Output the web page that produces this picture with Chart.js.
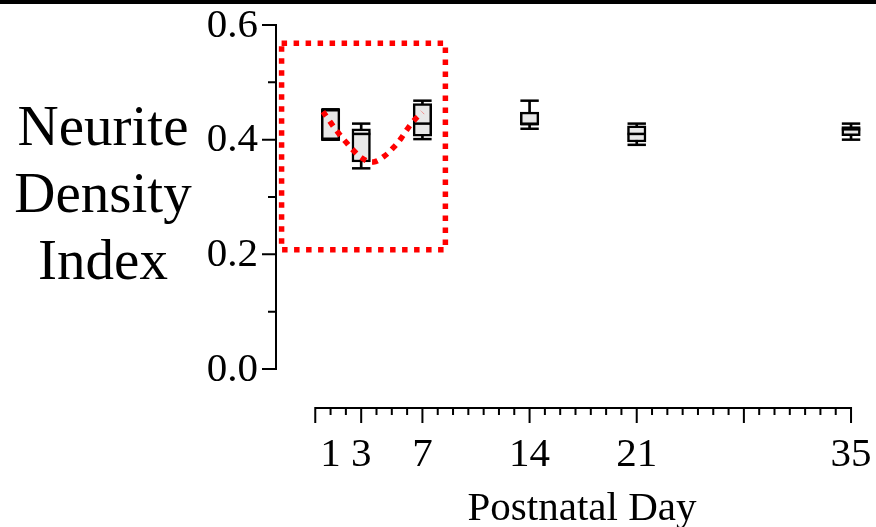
<!DOCTYPE html>
<html>
<head>
<meta charset="utf-8">
<title>Neurite Density Index by Postnatal Day</title>
<script src="https://cdn.jsdelivr.net/npm/chart.js@4.4.1/dist/chart.umd.min.js"></script>
<style>
  html, body { margin: 0; padding: 0; background: #ffffff; }
  #wrap { width: 876px; height: 527px; }
</style>
</head>
<body>
<div id="wrap"><canvas id="chart" width="876" height="527"></canvas></div>
<script>
// Postnatal days sampled
const days = [1, 3, 7, 14, 21, 35];
// Box plot summary per day
const whiskerLow   = [0.400, 0.350, 0.401, 0.419, 0.391, 0.400];
const quartileLow  = [0.400, 0.361, 0.406, 0.426, 0.396, 0.407];
const medians      = [0.400, 0.410, 0.428, 0.427, 0.410, 0.418];
const quartileHigh = [0.453, 0.419, 0.463, 0.448, 0.424, 0.423];
const whiskerHigh  = [0.453, 0.428, 0.468, 0.468, 0.428, 0.428];

// Dotted trend drawn through the early days
const trendDays   = [0.5, 1.0, 1.5, 2.0, 2.5, 3.1, 3.8, 4.5, 5.1, 5.6, 6.0, 6.5, 7.0];
const trendValues = [0.449, 0.430, 0.412, 0.396, 0.381, 0.367, 0.361, 0.371, 0.386, 0.402, 0.418, 0.435, 0.448];

// Highlighted window (days, index values)
const highlightDays   = [-2.2, 8.5];
const highlightValues = [0.208, 0.568];

// Axis ticks and labels
const yMajorTicks = [0.0, 0.2, 0.4, 0.6];
const yMinorTicks = [0.1, 0.3, 0.5];
const yTickLabels = ['0.0', '0.2', '0.4', '0.6'];
const xMajorTicks = [0, 3, 7, 14, 21, 28, 35];
const xLabelDays  = [1, 3, 7, 14, 21, 35];
const xTickLabels = ['1', '3', '7', '14', '21', '35'];
const xFirstDay = 0, xLastDay = 35;
const yTitleLines = ['Neurite', 'Density', 'Index'];
const xTitle = 'Postnatal Day';

const SERIF = '"Liberation Serif", "Times New Roman", serif';
const RED = '#ff0000';
const INK = '#000000';

const whiskerData = days.map((d, i) => ({ x: d, y: [whiskerLow[i], whiskerHigh[i]] }));
const boxData = days.map((d, i) => ({ x: d, y: [quartileLow[i], quartileHigh[i]] }));
const capData = days.flatMap((d, i) => [{ x: d, y: whiskerLow[i] }, { x: d, y: whiskerHigh[i] }]);
const medianData = days.map((d, i) => ({ x: d, y: medians[i] }));
const trendData = trendDays.map((d, i) => ({ x: d, y: trendValues[i] }));
const highlightData = [
  { x: highlightDays[0], y: highlightValues[1] },
  { x: highlightDays[1], y: highlightValues[1] },
  { x: highlightDays[1], y: highlightValues[0] },
  { x: highlightDays[0], y: highlightValues[0] },
  { x: highlightDays[0], y: highlightValues[1] }
];

// Frame: top rule, offset axes, ticks and titles drawn from the chart scales
const framePlugin = {
  id: 'frame',
  afterDraw(chart) {
    const ctx = chart.ctx;
    const xs = chart.scales.x, ys = chart.scales.y;
    ctx.save();
    ctx.fillStyle = INK;
    ctx.fillRect(0, 0, chart.width, 4);

    ctx.strokeStyle = INK;
    ctx.lineWidth = 2;
    ctx.lineCap = 'butt';

    // y axis
    const yAxisX = chart.chartArea.left - 1;
    ctx.beginPath();
    ctx.moveTo(yAxisX, ys.getPixelForValue(0) + 1);
    ctx.lineTo(yAxisX, ys.getPixelForValue(0.6) - 1);
    ctx.stroke();
    ctx.beginPath();
    yMajorTicks.forEach(v => {
      const py = ys.getPixelForValue(v);
      ctx.moveTo(yAxisX - 14, py);
      ctx.lineTo(yAxisX, py);
    });
    yMinorTicks.forEach(v => {
      const py = ys.getPixelForValue(v);
      ctx.moveTo(yAxisX - 8, py);
      ctx.lineTo(yAxisX, py);
    });
    ctx.stroke();
    ctx.font = '41px ' + SERIF;
    ctx.textAlign = 'right';
    ctx.textBaseline = 'middle';
    yMajorTicks.forEach((v, i) => {
      ctx.fillText(yTickLabels[i], yAxisX - 18, ys.getPixelForValue(v) + 1);
    });

    // x axis
    const xAxisY = 408;
    const x0 = xs.getPixelForValue(xFirstDay), x1 = xs.getPixelForValue(xLastDay);
    ctx.beginPath();
    ctx.moveTo(x0 - 1, xAxisY);
    ctx.lineTo(x1 + 1, xAxisY);
    for (let d = xFirstDay; d <= xLastDay; d++) {
      const px = xs.getPixelForValue(d);
      const long = xMajorTicks.includes(d);
      ctx.moveTo(px, xAxisY);
      ctx.lineTo(px, xAxisY + (long ? 15 : 7));
    }
    ctx.stroke();
    ctx.textAlign = 'center';
    ctx.textBaseline = 'alphabetic';
    xLabelDays.forEach((d, i) => {
      ctx.fillText(xTickLabels[i], xs.getPixelForValue(d), 466);
    });

    // titles
    ctx.font = '57px ' + SERIF;
    yTitleLines.forEach((t, i) => ctx.fillText(t, 103, 145 + i * 67));
    ctx.font = '41px ' + SERIF;
    ctx.fillText(xTitle, 582, 520);
    ctx.restore();
  }
};

new Chart(document.getElementById('chart'), {
  type: 'bar',
  data: {
    datasets: [
      {
        type: 'line', data: highlightData, order: 0,
        borderColor: RED, borderWidth: 5.5, borderDash: [5.5, 6.5],
        pointRadius: 0, tension: 0, fill: false, clip: false
      },
      {
        type: 'line', data: trendData, order: 0,
        borderColor: RED, borderWidth: 5.5, borderDash: [5.5, 6.5],
        pointRadius: 0, tension: 0.4, fill: false, clip: false
      },
      {
        type: 'scatter', data: medianData, order: 1,
        pointStyle: 'line', pointRadius: 9.2, borderColor: INK, borderWidth: 2.5, clip: false
      },
      {
        type: 'scatter', data: capData, order: 1,
        pointStyle: 'line', pointRadius: 9.2, borderColor: INK, borderWidth: 2.5, clip: false
      },
      {
        data: boxData, order: 2, grouped: false,
        backgroundColor: '#e8e8e8', borderColor: INK, borderWidth: 2.5,
        borderSkipped: false, barThickness: 18.5, clip: false
      },
      {
        data: whiskerData, order: 3, grouped: false,
        backgroundColor: INK, borderWidth: 0, barThickness: 2, clip: false
      }
    ]
  },
  options: {
    responsive: false,
    animation: false,
    devicePixelRatio: 1,
    events: [],
    layout: { autoPadding: false, padding: { left: 277, right: 2, top: 25, bottom: 158 } },
    plugins: { legend: { display: false }, tooltip: { enabled: false } },
    scales: {
      x: { type: 'linear', min: -2.5, max: 36.5, offset: false, display: false },
      y: { type: 'linear', min: 0, max: 0.6, display: false }
    }
  },
  plugins: [framePlugin]
});
</script>
</body>
</html>
